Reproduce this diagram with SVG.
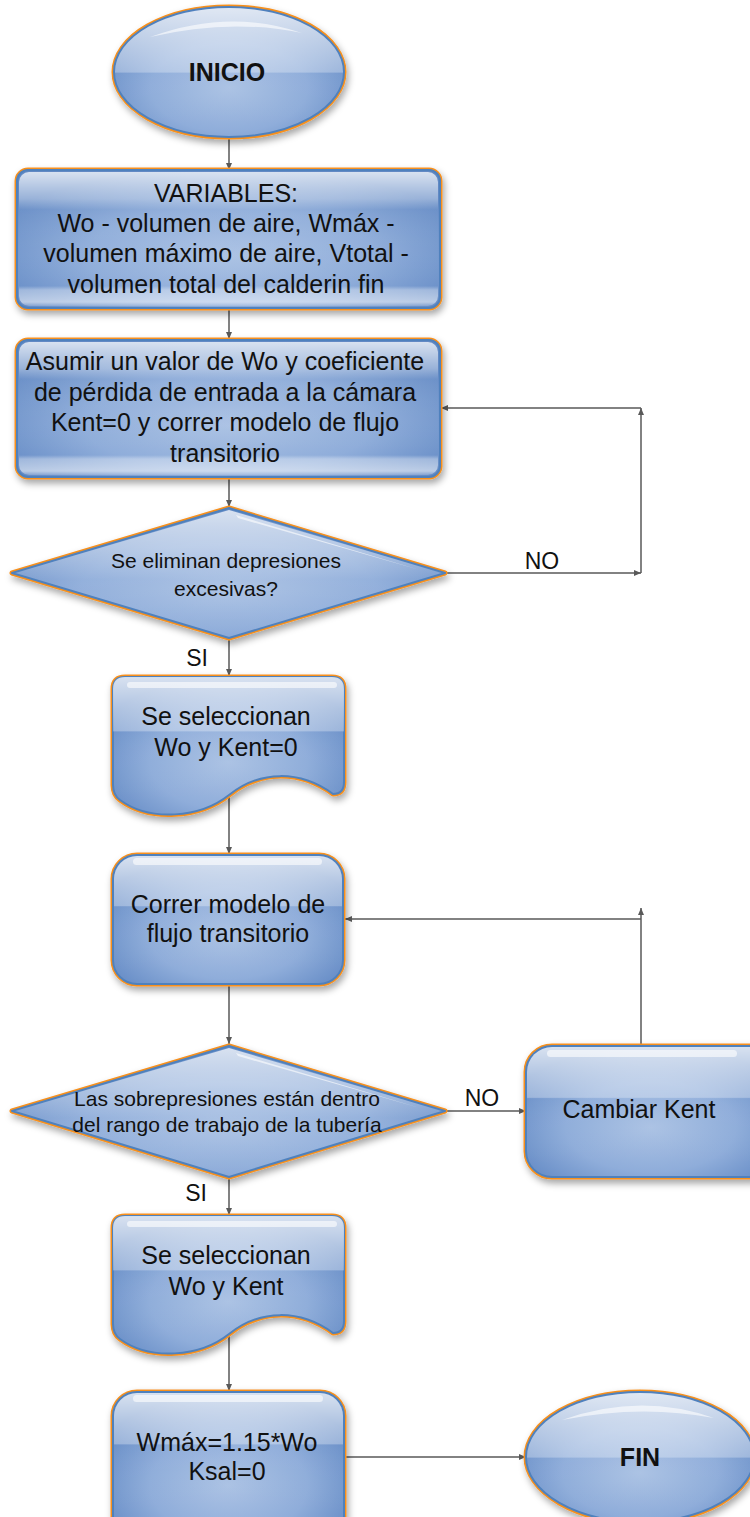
<svg xmlns="http://www.w3.org/2000/svg" width="750" height="1517" viewBox="0 0 750 1517">
<defs>
<radialGradient id="gBase" cx="0.5" cy="0.62" r="0.62">
<stop offset="0" stop-color="#abc2e4"/>
<stop offset="0.55" stop-color="#8fadda"/>
<stop offset="1" stop-color="#6289c4"/>
</radialGradient>
<linearGradient id="gGloss" x1="0" y1="0" x2="0" y2="1">
<stop offset="0" stop-color="#fff" stop-opacity="0.75"/>
<stop offset="0.39" stop-color="#fff" stop-opacity="0.32"/>
<stop offset="0.40" stop-color="#fff" stop-opacity="0.02"/>
<stop offset="1" stop-color="#fff" stop-opacity="0"/>
</linearGradient>
<linearGradient id="gGlossE" x1="0" y1="0" x2="0" y2="1">
<stop offset="0" stop-color="#fff" stop-opacity="0.8"/>
<stop offset="0.5" stop-color="#fff" stop-opacity="0.3"/>
<stop offset="0.51" stop-color="#fff" stop-opacity="0.02"/>
<stop offset="1" stop-color="#fff" stop-opacity="0"/>
</linearGradient>
<linearGradient id="gGlossD" x1="0" y1="0" x2="0" y2="1">
<stop offset="0" stop-color="#fff" stop-opacity="0.75"/>
<stop offset="0.3" stop-color="#fff" stop-opacity="0.4"/>
<stop offset="0.55" stop-color="#fff" stop-opacity="0.05"/>
<stop offset="1" stop-color="#fff" stop-opacity="0"/>
</linearGradient>
<linearGradient id="gWide" x1="0" y1="0" x2="0" y2="1">
<stop offset="0" stop-color="#fff" stop-opacity="0.75"/>
<stop offset="0.2" stop-color="#fff" stop-opacity="0.35"/>
<stop offset="0.28" stop-color="#fff" stop-opacity="0.05"/>
<stop offset="0.85" stop-color="#fff" stop-opacity="0"/>
<stop offset="0.88" stop-color="#fff" stop-opacity="0.35"/>
<stop offset="0.97" stop-color="#fff" stop-opacity="0.55"/>
<stop offset="1" stop-color="#fff" stop-opacity="0.2"/>
</linearGradient>
<filter id="shadow" x="-10%" y="-10%" width="125%" height="130%">
<feDropShadow dx="2" dy="4" stdDeviation="3.5" flood-color="#000" flood-opacity="0.35"/>
</filter>
<marker id="arr" markerWidth="8" markerHeight="7" refX="7" refY="3" orient="auto" markerUnits="userSpaceOnUse">
<path d="M0,0 L7,3 L0,6 z" fill="#595959"/>
</marker>
<style>
.rim{fill:#4f81bd;stroke:#f7901e;stroke-width:5;stroke-linejoin:round;filter:url(#shadow)}
.body{fill:url(#gBase);stroke:#4f81bd;stroke-width:2;stroke-linejoin:round}
.gloss{fill:url(#gGloss);stroke:none}
.glossE{fill:url(#gGlossE);stroke:none}
.glossD{fill:url(#gGlossD);stroke:none}
.glossW{fill:url(#gWide);stroke:none}
.hl{fill:#fff;fill-opacity:0.6;stroke:none}
.t{font-family:"Liberation Sans",Arial,sans-serif;font-size:25px;fill:#111;text-anchor:middle}
.b{font-weight:bold}
.d{font-size:21px}
.lbl{font-family:"Liberation Sans",Arial,sans-serif;font-size:23px;fill:#111;text-anchor:middle}
.c{fill:none;stroke:#595959;stroke-width:1.5;marker-end:url(#arr)}
</style>
<path id="doc" d="M113,689 Q113,677 125,677 H332 Q344,677 344,689 V782 Q344,794 333,794 C300,770 260,770 229,795 C200,818 150,822 120,800 Q113,795 113,785 Z"/>
</defs>

<g id="connectors">
<line class="c" x1="229" y1="137" x2="229" y2="170"/>
<line class="c" x1="229" y1="308" x2="229" y2="339"/>
<line class="c" x1="229" y1="477" x2="229" y2="507"/>
<line class="c" x1="446" y1="573" x2="641" y2="573"/>
<line class="c" x1="641" y1="573" x2="641" y2="408"/>
<line class="c" x1="641" y1="408" x2="441" y2="408"/>
<line class="c" x1="229" y1="638" x2="229" y2="676"/>
<line class="c" x1="229" y1="796" x2="229" y2="854"/>
<line class="c" x1="229" y1="984" x2="229" y2="1044"/>
<line class="c" x1="446" y1="1111" x2="526" y2="1111"/>
<line class="c" x1="641" y1="1046" x2="641" y2="908"/>
<line class="c" x1="641" y1="919" x2="345" y2="919"/>
<line class="c" x1="229" y1="1177" x2="229" y2="1215"/>
<line class="c" x1="229" y1="1335" x2="229" y2="1391"/>
<line class="c" x1="344" y1="1457" x2="526" y2="1457"/>
<text class="lbl" x="542" y="569">NO</text>
<text class="lbl" x="197" y="666">SI</text>
<text class="lbl" x="482" y="1106">NO</text>
<text class="lbl" x="196" y="1201">SI</text>
</g>

<g id="inicio">
<ellipse class="rim" cx="229" cy="72" rx="115" ry="65"/>
<ellipse class="body" cx="229" cy="72" rx="115" ry="65"/>
<ellipse class="glossE" cx="229" cy="72" rx="114" ry="64"/>
<path class="hl" d="M150,37 Q229,8 302,33 Q229,18 150,37 Z"/>
<text class="t b" x="227" y="81">INICIO</text>
</g>

<g id="variables">
<rect class="rim" x="17" y="170" width="423" height="138" rx="11"/>
<rect class="body" x="17" y="170" width="423" height="138" rx="11"/>
<rect class="glossW" x="19" y="172" width="419" height="134" rx="10"/>
<text class="t" x="226" y="202">VARIABLES:</text>
<text class="t" x="226" y="232">Wo - volumen de aire, Wmáx -</text>
<text class="t" x="226" y="262">volumen máximo de aire, Vtotal -</text>
<text class="t" x="226" y="293">volumen total del calderin fin</text>
</g>

<g id="asumir">
<rect class="rim" x="17" y="340" width="423" height="137" rx="11"/>
<rect class="body" x="17" y="340" width="423" height="137" rx="11"/>
<rect class="glossW" x="19" y="342" width="419" height="133" rx="10"/>
<text class="t" x="225" y="370">Asumir un valor de Wo y coeficiente</text>
<text class="t" x="225" y="401">de pérdida de entrada a la cámara</text>
<text class="t" x="225" y="431">Kent=0 y correr modelo de flujo</text>
<text class="t" x="225" y="462">transitorio</text>
</g>

<g id="decision1">
<polygon class="rim" points="229,508 445,573 229,638 12,573"/>
<polygon class="body" points="229,508 445,573 229,638 12,573"/>
<polygon class="glossD" points="229,510 442,573 229,636 15,573"/>
<path class="hl" d="M236,515 L420,570 L238,518 Z"/>
<text class="t d" x="226" y="568">Se eliminan depresiones</text>
<text class="t d" x="226" y="596">excesivas?</text>
</g>

<g id="seleccion1">
<use href="#doc" class="rim"/>
<use href="#doc" class="body"/>
<use href="#doc" class="gloss"/>
<rect class="hl" x="127" y="682" width="210" height="6" rx="3"/>
<text class="t" x="226" y="725">Se seleccionan</text>
<text class="t" x="226" y="756">Wo y Kent=0</text>
</g>

<g id="correr">
<rect class="rim" x="113" y="855" width="230" height="129" rx="24"/>
<rect class="body" x="113" y="855" width="230" height="129" rx="24"/>
<rect class="gloss" x="114" y="856" width="228" height="127" rx="23"/>
<rect class="hl" x="133" y="858" width="189" height="7" rx="3.5"/>
<text class="t" x="228" y="913">Correr modelo de</text>
<text class="t" x="228" y="942">flujo transitorio</text>
</g>

<g id="decision2">
<polygon class="rim" points="229,1046 445,1111 229,1177 12,1111"/>
<polygon class="body" points="229,1046 445,1111 229,1177 12,1111"/>
<polygon class="glossD" points="229,1048 442,1111 229,1175 15,1111"/>
<path class="hl" d="M236,1053 L420,1108 L238,1056 Z"/>
<text class="t d" x="227" y="1106">Las sobrepresiones están dentro</text>
<text class="t d" x="227" y="1132">del rango de trabajo de la tubería</text>
</g>

<g id="cambiar">
<rect class="rim" x="526" y="1046" width="250" height="131" rx="26"/>
<rect class="body" x="526" y="1046" width="250" height="131" rx="26"/>
<rect class="gloss" x="527" y="1047" width="248" height="129" rx="25"/>
<rect class="hl" x="547" y="1050" width="190" height="7" rx="3.5"/>
<text class="t" x="639" y="1118">Cambiar Kent</text>
</g>

<g id="seleccion2">
<use href="#doc" class="rim" transform="translate(0,539)"/>
<use href="#doc" class="body" transform="translate(0,539)"/>
<use href="#doc" class="gloss" transform="translate(0,539)"/>
<rect class="hl" x="127" y="1221" width="210" height="6" rx="3"/>
<text class="t" x="226" y="1264">Se seleccionan</text>
<text class="t" x="226" y="1295">Wo y Kent</text>
</g>

<g id="wmax">
<rect class="rim" x="113" y="1392" width="231" height="150" rx="24"/>
<rect class="body" x="113" y="1392" width="231" height="150" rx="24"/>
<rect class="gloss" x="114" y="1393" width="229" height="130" rx="23"/>
<rect class="hl" x="133" y="1395" width="190" height="7" rx="3.5"/>
<text class="t" x="227" y="1451">Wmáx=1.15*Wo</text>
<text class="t" x="227" y="1480">Ksal=0</text>
</g>

<g id="fin">
<ellipse class="rim" cx="640" cy="1457" rx="114" ry="65"/>
<ellipse class="body" cx="640" cy="1457" rx="114" ry="65"/>
<ellipse class="glossE" cx="640" cy="1457" rx="113" ry="64"/>
<path class="hl" d="M562,1420 Q640,1392 714,1418 Q640,1404 562,1420 Z"/>
<text class="t b" x="640" y="1466">FIN</text>
</g>
</svg>
